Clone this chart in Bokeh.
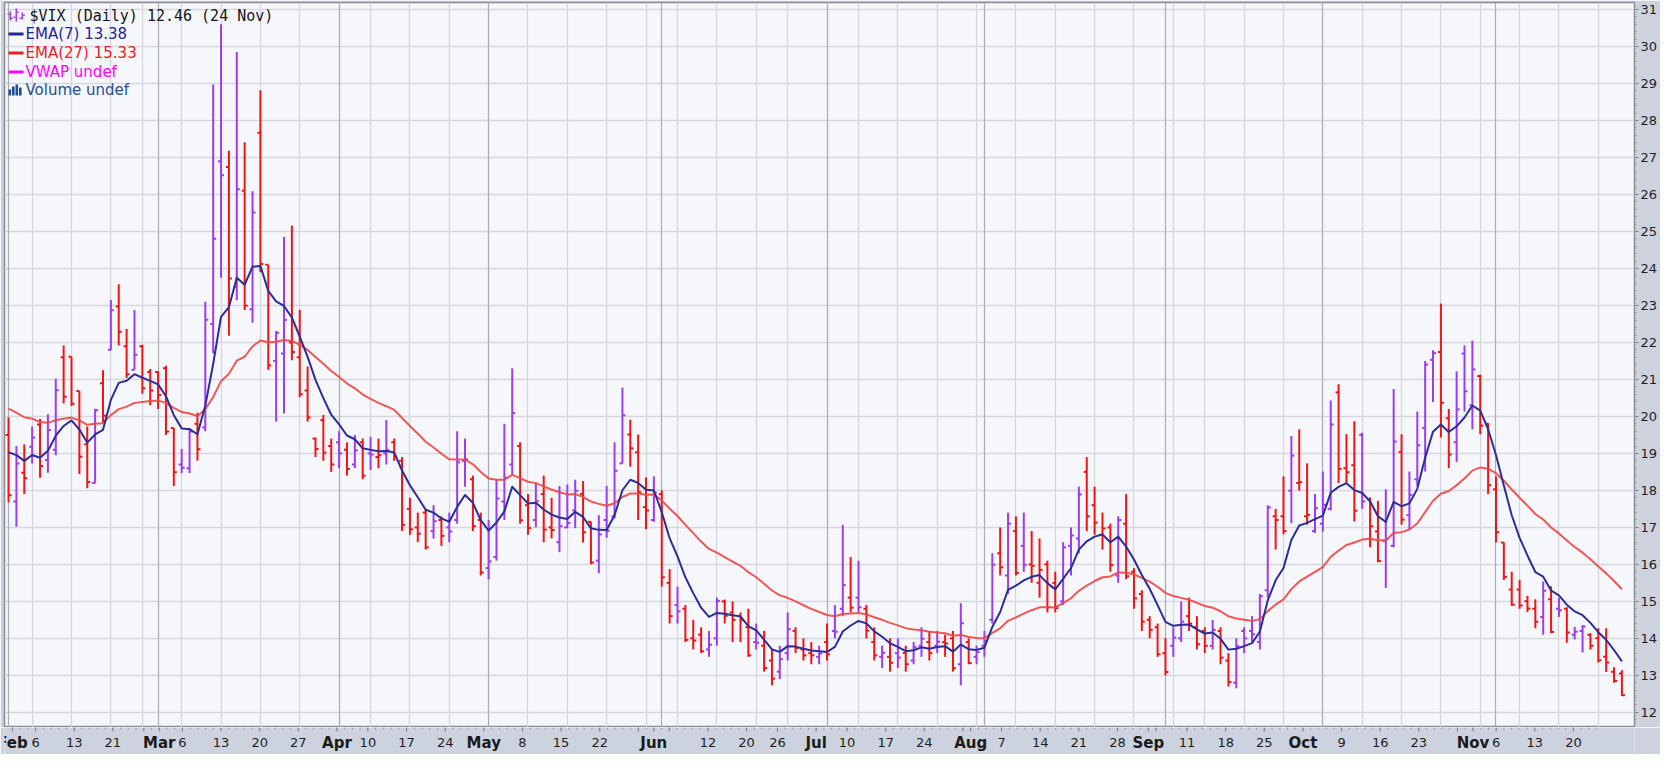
import pandas as pd
from bokeh.plotting import figure
from bokeh.layouts import column
from bokeh.models import ColumnDataSource, FixedTicker, Range1d, Label, BoxAnnotation, Grid
from bokeh.core.properties import value
from bokeh.embed import file_html
from bokeh.resources import INLINE

# ---------------- data ----------------
symbol = "$VIX"
holidays = ["2023-02-20", "2023-04-07", "2023-05-29", "2023-06-19",
            "2023-07-04", "2023-09-04", "2023-11-23"]
prior_close = 19.40          # close of the session before the first bar
ema_fast_len, ema_slow_len = 7, 27
ema_fast_seed, ema_slow_seed = 19.03, 20.21   # indicator values read at the first bar

legend_texts = ["$VIX (Daily) 12.46 (24 Nov)", "EMA(7) 13.38", "EMA(27) 15.33",
                "VWAP undef", "Volume undef"]
y_ticks = list(range(12, 32))

opens = [
    # Feb
    19.50, 17.70, 18.48, 19.18, 19.78, 18.82, 19.10, 21.60, 21.61, 20.69, 19.25, 18.20, 20.90, 21.80, 22.97, 21.90, 21.26, 21.90, 21.20,
    # Mar
    21.20, 21.30, 19.69, 18.70, 18.60, 19.80, 19.70, 22.50, 26.90, 26.74, 23.50, 26.10, 22.90, 27.67, 24.10, 21.50, 21.70, 22.00, 21.60, 20.70, 19.40, 19.90, 19.20,
    # Apr
    19.30, 19.10, 18.70, 19.30, 19.00, 18.90, 19.00, 19.30, 18.80, 17.50, 17.00, 17.40, 16.90, 17.20, 17.00, 17.20, 18.80, 18.30, 17.20,
    # May
    15.90, 16.20, 17.70, 18.70, 19.20, 17.60, 17.20, 17.90, 17.00, 16.60, 17.00, 17.46, 17.90, 17.15, 16.10, 17.20, 17.30, 18.73, 19.51, 19.03, 17.55, 17.20,
    # Jun
    17.90, 15.50, 14.90, 14.80, 14.00, 14.10, 13.70, 14.00, 15.00, 14.70, 14.60, 14.30, 13.90, 13.80, 13.40, 13.10, 13.60, 14.20, 13.70, 13.60, 13.50,
    # Jul
    13.90, 14.20, 14.80, 15.10, 15.10, 14.80, 13.90, 13.50, 13.50, 13.60, 13.60, 13.40, 13.80, 13.90, 13.80, 13.90, 14.00, 13.30, 13.90, 13.50,
    # Aug
    13.80, 14.50, 16.30, 15.70, 16.90, 16.50, 16.00, 15.50, 16.00, 15.50, 15.00, 16.50, 16.70, 18.50, 17.60, 16.80, 17.00, 15.70, 17.10, 15.80, 15.20, 14.50, 14.30,
    # Sep
    13.60, 13.80, 14.00, 14.60, 14.30, 14.20, 13.80, 14.20, 13.40, 12.80, 14.20, 14.20, 13.90, 15.30, 17.30, 17.30, 17.99, 18.20, 17.30, 16.90,
    # Oct
    17.10, 17.50, 20.65, 18.60, 18.68, 19.50, 17.76, 16.89, 16.63, 16.50, 19.04, 17.33, 18.30, 19.69, 21.53, 21.74, 19.95, 19.30, 21.70, 20.30, 21.09, 19.80,
    # Nov
    18.03, 16.59, 15.32, 15.32, 15.00, 14.80, 14.58, 15.06, 14.80, 14.80, 14.10, 14.20, 14.10, 14.00, 13.50, 13.10, 13.05,
]
highs = [
    19.97, 19.20, 19.24, 19.73, 19.93, 20.06, 21.02, 21.92, 21.61, 20.69, 19.73, 20.21, 21.25, 23.15, 23.57, 22.36, 22.88, 21.94, 21.28,
    21.22, 21.37, 19.69, 19.12, 19.69, 20.10, 23.10, 28.97, 30.60, 27.18, 29.85, 27.41, 26.09, 28.82, 24.10, 22.31, 24.85, 25.16, 22.88, 21.35, 19.43, 20.04, 19.40,
    19.60, 19.30, 19.50, 19.40, 19.45, 19.40, 19.90, 19.40, 18.90, 17.80, 17.40, 17.50, 17.60, 17.30, 17.40, 19.60, 19.40, 18.40, 17.40,
    17.20, 18.30, 19.80, 21.30, 19.30, 17.90, 18.20, 18.40, 17.80, 18.12, 18.16, 18.29, 18.25, 17.15, 17.33, 18.12, 19.30, 20.78, 19.91, 19.51, 18.35, 18.38,
    18.00, 15.87, 15.40, 14.90, 14.50, 14.30, 14.20, 15.10, 15.05, 15.00, 14.70, 14.80, 14.40, 14.20, 13.70, 13.80, 14.70, 14.30, 14.00, 13.90, 13.80,
    14.40, 14.90, 17.07, 16.20, 16.10, 14.90, 14.30, 13.80, 14.00, 14.00, 13.80, 13.90, 14.30, 14.20, 14.20, 14.10, 14.20, 14.95, 14.00, 13.80,
    14.20, 16.30, 17.00, 17.40, 17.30, 17.40, 16.90, 16.70, 16.10, 15.80, 16.60, 17.00, 18.10, 18.90, 18.10, 17.40, 17.10, 17.30, 17.90, 15.90, 15.30, 14.60, 14.40,
    14.00, 14.30, 15.00, 15.10, 14.60, 14.30, 14.50, 14.30, 13.60, 14.00, 14.30, 14.60, 15.20, 17.60, 17.50, 18.38, 19.47, 19.65, 18.73, 17.90,
    18.51, 20.43, 20.87, 19.52, 19.87, 19.56, 17.81, 17.72, 18.03, 20.74, 19.52, 18.51, 20.13, 21.50, 21.79, 23.05, 20.20, 21.22, 21.92, 22.05, 21.13, 19.82,
    18.38, 16.59, 15.80, 15.58, 15.15, 15.06, 15.54, 15.41, 15.10, 14.84, 14.31, 14.36, 14.14, 14.27, 14.27, 13.22, 13.14,
]
lows = [
    17.68, 17.02, 17.90, 18.73, 18.34, 18.48, 18.95, 20.35, 20.28, 18.44, 18.06, 18.20, 19.82, 21.79, 21.92, 21.04, 21.26, 20.61, 20.30,
    20.20, 19.50, 18.12, 18.47, 18.47, 18.80, 19.60, 21.70, 23.75, 22.18, 23.14, 22.88, 22.53, 23.90, 21.26, 19.86, 20.08, 21.52, 20.52, 19.86, 18.90, 18.80, 18.50,
    18.60, 18.40, 18.60, 18.30, 18.55, 18.60, 18.70, 18.80, 16.90, 16.80, 16.60, 16.40, 16.70, 16.50, 16.60, 17.10, 18.10, 16.90, 15.70,
    15.60, 16.10, 17.20, 18.40, 17.10, 16.80, 17.00, 16.60, 16.70, 16.33, 16.98, 16.98, 16.59, 16.00, 15.76, 16.72, 17.24, 18.73, 18.64, 17.20, 16.95, 17.15,
    15.40, 14.40, 14.40, 13.90, 13.70, 13.60, 13.50, 13.80, 14.40, 13.90, 13.90, 13.50, 13.70, 13.10, 12.73, 12.90, 13.40, 13.60, 13.40, 13.30, 13.30,
    13.40, 14.00, 14.60, 14.70, 14.70, 14.00, 13.40, 13.20, 13.10, 13.20, 13.10, 13.30, 13.50, 13.40, 13.60, 13.50, 13.10, 12.73, 13.30, 13.30,
    13.50, 14.40, 15.70, 15.20, 15.70, 15.80, 15.50, 15.10, 14.70, 14.70, 14.90, 15.70, 16.30, 16.90, 16.80, 16.40, 15.80, 15.50, 15.60, 14.80, 14.20, 14.00, 13.50,
    13.00, 13.50, 13.90, 14.20, 13.70, 13.60, 13.70, 13.30, 12.70, 12.65, 13.60, 13.90, 13.70, 15.10, 16.40, 16.81, 17.11, 17.99, 17.07, 16.85,
    16.89, 17.46, 18.20, 18.20, 17.16, 17.50, 16.46, 16.06, 15.36, 16.46, 17.07, 16.94, 18.12, 18.51, 20.39, 19.43, 18.60, 18.77, 20.13, 19.65, 19.52, 17.90,
    16.59, 15.58, 14.88, 14.80, 14.71, 14.27, 14.10, 14.14, 14.58, 13.88, 13.97, 13.62, 13.70, 13.35, 13.09, 12.80, 12.44,
]
closes = [
    17.87, 18.73, 18.33, 19.43, 18.66, 19.63, 20.71, 20.53, 20.34, 18.91, 18.23, 20.17, 20.02, 22.87, 22.29, 21.14, 21.67, 20.76, 20.70,
    20.58, 19.59, 18.49, 18.61, 19.59, 19.11, 22.61, 24.80, 26.52, 23.73, 26.14, 22.99, 25.51, 24.12, 21.38, 22.26, 22.61, 21.74, 20.60, 19.97, 19.12, 19.02, 18.70,
    19.00, 18.58, 19.08, 18.40, 18.97, 18.95, 19.09, 18.91, 17.07, 16.95, 16.83, 16.46, 17.17, 16.77, 16.89, 18.76, 18.84, 17.03, 15.78,
    16.08, 17.78, 18.34, 20.09, 17.19, 16.98, 17.71, 16.94, 16.93, 17.03, 17.12, 17.99, 16.87, 16.05, 16.81, 16.91, 18.53, 20.03, 19.14, 17.95, 17.46, 17.94,
    15.65, 14.60, 14.73, 13.96, 13.94, 13.65, 13.83, 15.01, 14.61, 14.50, 14.50, 13.54, 13.88, 13.20, 12.91, 13.44, 14.25, 13.74, 13.54, 13.54, 13.59,
    13.57, 14.18, 15.44, 14.83, 14.84, 14.21, 13.54, 13.61, 13.34, 13.48, 13.30, 13.76, 13.99, 13.60, 13.91, 13.86, 13.19, 14.41, 13.33, 13.63,
    13.93, 15.99, 15.92, 17.10, 15.77, 15.99, 15.96, 15.85, 14.84, 14.82, 16.46, 16.78, 17.89, 17.30, 17.13, 16.97, 15.98, 17.20, 15.68, 15.08, 14.45, 14.23, 13.57,
    13.09, 14.02, 14.45, 14.40, 13.84, 13.80, 14.23, 13.48, 12.82, 13.79, 14.00, 14.11, 15.14, 17.54, 17.20, 16.90, 18.94, 18.22, 17.34, 17.52,
    17.61, 19.78, 18.58, 18.49, 17.45, 17.70, 17.03, 16.09, 16.69, 19.32, 17.21, 17.88, 19.22, 21.40, 21.71, 20.37, 18.97, 20.19, 20.68, 21.27, 19.75, 18.14,
    16.87, 15.66, 14.91, 14.89, 14.81, 14.45, 15.29, 14.17, 14.76, 14.16, 14.18, 14.32, 13.80, 13.41, 13.35, 12.85, 12.46,
]

# ---------------- derived ----------------
dates = [d for d in pd.bdate_range("2023-02-01", "2023-11-24")
         if d.strftime("%Y-%m-%d") not in holidays]
n = len(dates)
idx = list(range(n))

UP, DOWN = "#9b3df2", "#f01414"
colors = []
prev = prior_close
for c in closes:
    colors.append(UP if c > prev else DOWN)
    prev = c


def ema(vals, length, seed):
    a = 2.0 / (length + 1)
    out = [seed]
    for v in vals[1:]:
        out.append(out[-1] + a * (v - out[-1]))
    return out


ema_fast = ema(closes, ema_fast_len, ema_fast_seed)
ema_slow = ema(closes, ema_slow_len, ema_slow_seed)

week_starts, month_starts = [], []
for i, d in enumerate(dates):
    if i == 0 or d.month != dates[i - 1].month:
        month_starts.append(i)
    if i > 0 and d.isocalendar()[1] != dates[i - 1].isocalendar()[1]:
        week_starts.append(i)
major_ticks = sorted(set(week_starts + month_starts))

day_ticks, day_labels = [], []
for i in week_starts:
    if i in month_starts or any(abs(i - m) <= 2 for m in month_starts):
        continue
    day_ticks.append(i)
    day_labels.append(str(dates[i].day))
month_labels = [dates[m].strftime("%b") for m in month_starts]

# ---------------- geometry ----------------
W = 1660
BL, BR, BT, BB = 4, 26, 2, 0
FH = 725
H_MAIN = BT + FH + BB
H_STRIP = 754 - H_MAIN
FW = W - BL - BR
X0, X1 = -0.515, 206.6
Y0, Y1 = 11.59, 31.19
UPX = (X1 - X0) / FW


def sx(px):
    return X0 + (px - BL) * UPX


def sy(py):
    return Y1 - (py - BT) * (Y1 - Y0) / FH


BORDER = "#cdd3de"
chart = figure(width=W, height=H_MAIN, x_range=Range1d(X0, X1), y_range=Range1d(Y0, Y1),
               y_axis_location="right", x_axis_location=None,
               toolbar_location=None, output_backend="svg",
               min_border_left=BL, min_border_right=BR, min_border_top=BT, min_border_bottom=BB,
               background_fill_color="#f6f7fb", border_fill_color=BORDER)
chart.outline_line_color = "#8a8d92"
chart.outline_line_width = 1.5

# grids
chart.xgrid.ticker = FixedTicker(ticks=week_starts)
chart.xgrid.grid_line_color = "#d2d5db"
chart.xgrid.grid_line_width = 1.2
chart.add_layout(Grid(dimension=0, ticker=FixedTicker(ticks=month_starts),
                      grid_line_color="#a9adb5", grid_line_width=1.2))
chart.ygrid.ticker = FixedTicker(ticks=y_ticks)
chart.ygrid.grid_line_color = "#d5d8de"
chart.ygrid.grid_line_width = 1.4

# y axis
ya = chart.yaxis[0]
ya.ticker = FixedTicker(ticks=y_ticks, minor_ticks=[round(11.6 + 0.2 * k, 1) for k in range(99)])
ya.axis_line_color = None
ya.major_tick_in = 0
ya.major_tick_out = 4
ya.minor_tick_in = 0
ya.minor_tick_out = 2
ya.major_tick_line_color = "#7a7d82"
ya.minor_tick_line_color = "#8e9196"
ya.major_label_standoff = 2
ya.major_label_text_font = "DejaVu Sans"
ya.major_label_text_font_size = "13px"
ya.major_label_text_color = "#1e1e1e"

# ---------------- bars ----------------
tick = 0.38
src = ColumnDataSource(dict(x=idx, xl=[i - tick for i in idx], xr=[i + tick for i in idx],
                            o=opens, h=highs, l=lows, c=closes, color=colors))
chart.segment(x0="x", y0="l", x1="x", y1="h", color="color", line_width=2, source=src)
chart.segment(x0="xl", y0="o", x1="x", y1="o", color="color", line_width=2, source=src)
chart.segment(x0="x", y0="c", x1="xr", y1="c", color="color", line_width=2, source=src)

chart.line(idx, ema_slow, color="#ef4545", line_width=2, line_alpha=0.9, line_join="round")
chart.line(idx, ema_fast, color="#2d2d96", line_width=2, line_join="round")

# ---------------- legend ----------------
legend_colors = ["#151515", "#24249a", "#ee1c25", "#ff00ff", "#1f4e96"]
legend_rows = [15, 33.5, 52.5, 71.5, 89.5]
for k, (t, col, ry) in enumerate(zip(legend_texts, legend_colors, legend_rows)):
    chart.add_layout(Label(x=sx(29 if k == 0 else 25), y=sy(ry), text=t,
                           text_align="left", text_baseline="middle",
                           text_font="DejaVu Sans Mono" if k == 0 else "DejaVu Sans",
                           text_font_size="15px", text_color=col))


def box(l, r, t, b, col):
    chart.add_layout(BoxAnnotation(left=sx(l), right=sx(r), top=sy(t), bottom=sy(b),
                                   fill_color=col, fill_alpha=1.0, line_color=None))


for bx, bt, bb, ot, ct in [(9, 11, 20, 13, 17), (15, 8, 21, 16, 11), (21, 12, 19, 17, 14)]:
    box(bx, bx + 1.6, bt, bb, UP)
    box(bx - 2, bx, ot, ot + 1.4, UP)
    box(bx + 1.6, bx + 3.2, ct, ct + 1.4, UP)
for col, ry in zip(legend_colors[1:4], legend_rows[1:4]):
    box(8, 23, ry - 1.5, ry + 1.5, col)
for bx, bt in [(8, 89), (11.5, 86), (15, 84), (18.5, 87)]:
    box(bx, bx + 2.6, bt, 95, legend_colors[4])

# ---------------- date axis strip (ticks + labels) ----------------
strip = figure(width=W, height=H_STRIP, x_range=Range1d(X0 - BL * UPX, X1 + BR * UPX),
               y_range=Range1d(0, H_STRIP), toolbar_location=None, output_backend="svg",
               min_border=0, background_fill_color=BORDER, border_fill_color=BORDER)
strip.axis.visible = False
strip.grid.visible = False
strip.outline_line_color = None
top = H_STRIP
strip.segment(x0=idx, x1=idx, y0=[top] * n, y1=[top - 2] * n, color="#8e9196", line_width=1)
strip.segment(x0=major_ticks, x1=major_ticks, y0=[top] * len(major_ticks),
              y1=[top - 4] * len(major_ticks), color="#7a7d82", line_width=1)
ylab = top - 15
strip.text(x=day_ticks, y=[ylab] * len(day_ticks), text=day_labels,
           text_align="center", text_baseline="middle", text_font=value("DejaVu Sans"),
           text_font_size="13px", text_color="#1e1e1e")
strip.text(x=month_starts, y=[ylab] * len(month_starts), text=month_labels,
           text_align="center", text_baseline="middle", text_font=value("DejaVu Sans"),
           text_font_style="bold", text_font_size="15px", text_color="#1a1a1a")

p = column(chart, strip, spacing=0)
open("out.html", "w").write(file_html(p, INLINE))
